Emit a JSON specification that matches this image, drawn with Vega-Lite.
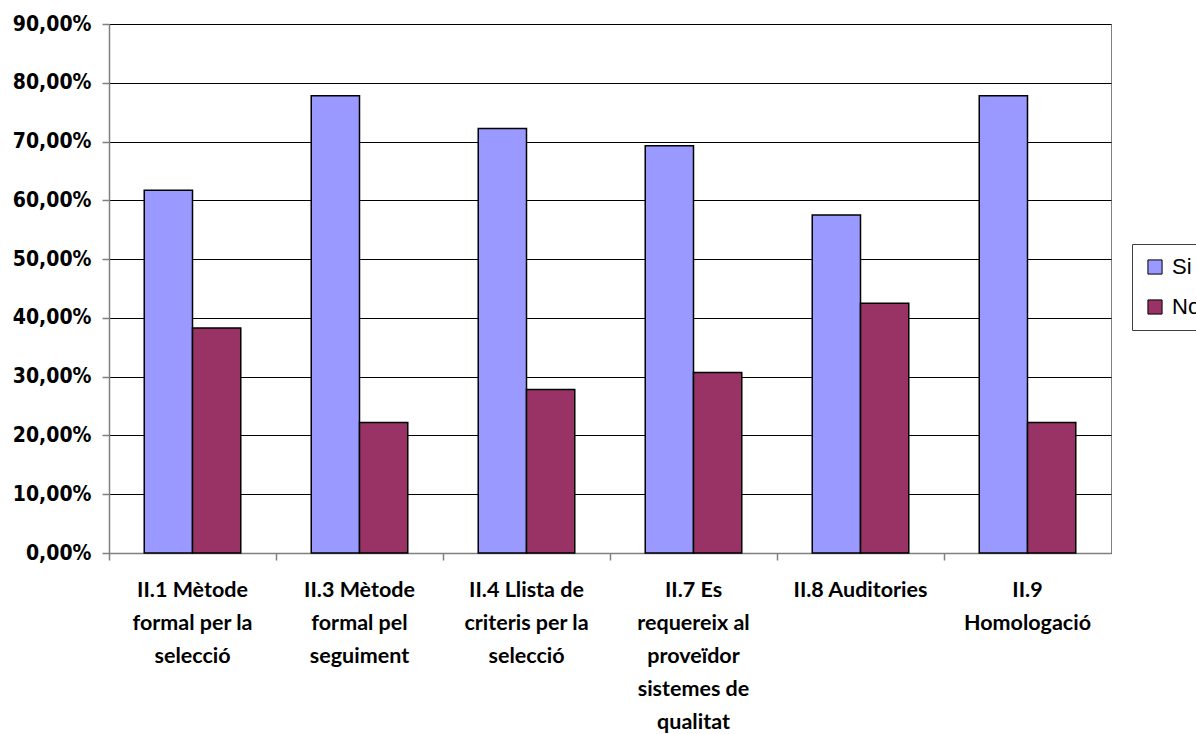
{
  "$schema": "https://vega.github.io/schema/vega-lite/v6.json",
  "width": 1002,
  "height": 529,
  "autosize": "none",
  "padding": {"left": 109, "top": 24, "right": 85, "bottom": 181},
  "background": "white",
  "config": {
    "locale": {"number": {"decimal": ",", "thousands": ".", "grouping": [3], "currency": ["", " €"]}},
    "view": {"stroke": "#808080", "strokeWidth": 1}
  },
  "data": {
    "values": [
      {"pregunta": "II.1 Mètode formal per la selecció", "resposta": "Si", "percentatge": 0.617},
      {"pregunta": "II.1 Mètode formal per la selecció", "resposta": "No", "percentatge": 0.383},
      {"pregunta": "II.3 Mètode formal pel seguiment", "resposta": "Si", "percentatge": 0.778},
      {"pregunta": "II.3 Mètode formal pel seguiment", "resposta": "No", "percentatge": 0.222},
      {"pregunta": "II.4 Llista de criteris per la selecció", "resposta": "Si", "percentatge": 0.722},
      {"pregunta": "II.4 Llista de criteris per la selecció", "resposta": "No", "percentatge": 0.278},
      {"pregunta": "II.7 Es requereix al proveïdor sistemes de qualitat", "resposta": "Si", "percentatge": 0.693},
      {"pregunta": "II.7 Es requereix al proveïdor sistemes de qualitat", "resposta": "No", "percentatge": 0.307},
      {"pregunta": "II.8 Auditories", "resposta": "Si", "percentatge": 0.575},
      {"pregunta": "II.8 Auditories", "resposta": "No", "percentatge": 0.425},
      {"pregunta": "II.9 Homologació", "resposta": "Si", "percentatge": 0.778},
      {"pregunta": "II.9 Homologació", "resposta": "No", "percentatge": 0.222}
    ]
  },
  "mark": {"type": "bar", "stroke": "black", "strokeWidth": 1.5},
  "encoding": {
    "x": {
      "field": "pregunta",
      "type": "nominal",
      "sort": null,
      "scale": {"paddingInner": 0.422, "paddingOuter": 0.211},
      "axis": {
        "title": null,
        "labelAngle": 0,
        "domainColor": "#808080",
        "domainWidth": 1.5,
        "tickColor": "#808080",
        "tickSize": 7,
        "tickWidth": 1.5,
        "bandPosition": -0.365,
        "labelOffset": 0,
        "labelPadding": 19,
        "labelFont": "Lato",
        "labelFontWeight": "bold",
        "labelFontSize": 21.5,
        "labelColor": "black",
        "labelLineHeight": 33,
        "labelLimit": 200,
        "labelExpr": "datum.value == 'II.1 Mètode formal per la selecció' ? ['II.1 Mètode', 'formal per la', 'selecció'] : datum.value == 'II.3 Mètode formal pel seguiment' ? ['II.3 Mètode', 'formal pel', 'seguiment'] : datum.value == 'II.4 Llista de criteris per la selecció' ? ['II.4 Llista de', 'criteris per la', 'selecció'] : datum.value == 'II.7 Es requereix al proveïdor sistemes de qualitat' ? ['II.7 Es', 'requereix al', 'proveïdor', 'sistemes de', 'qualitat'] : datum.value == 'II.9 Homologació' ? ['II.9', 'Homologació'] : datum.value"
      }
    },
    "xOffset": {"field": "resposta", "type": "nominal", "sort": ["Si", "No"], "scale": {"paddingInner": 0, "paddingOuter": 0}},
    "y": {
      "field": "percentatge",
      "type": "quantitative",
      "scale": {"domain": [0, 0.9], "nice": false},
      "axis": {
        "title": null,
        "format": ".2%",
        "values": [0, 0.1, 0.2, 0.3, 0.4, 0.5, 0.6, 0.7, 0.8, 0.9],
        "grid": true,
        "gridColor": "black",
        "gridWidth": 1,
        "domainColor": "#808080",
        "domainWidth": 1.5,
        "tickColor": "#808080",
        "tickSize": 7,
        "tickWidth": 1.5,
        "labelPadding": 11,
        "labelFont": "DejaVu Sans Condensed",
        "labelFontWeight": "bold",
        "labelFontSize": 21,
        "labelColor": "black"
      }
    },
    "color": {
      "field": "resposta",
      "type": "nominal",
      "sort": ["Si", "No"],
      "scale": {"domain": ["Si", "No"], "range": ["#9999FF", "#993366"]},
      "legend": {
        "title": null,
        "orient": "none",
        "legendX": 1023,
        "legendY": 220,
        "symbolType": "square",
        "symbolSize": 200,
        "symbolStrokeColor": "black",
        "symbolStrokeWidth": 1,
        "labelFont": "Liberation Sans",
        "labelFontSize": 22,
        "labelColor": "black",
        "rowPadding": 18,
        "padding": 12,
        "strokeColor": "#404040",
        "fillColor": "white",
        "labelOffset": 6
      }
    }
  }
}
